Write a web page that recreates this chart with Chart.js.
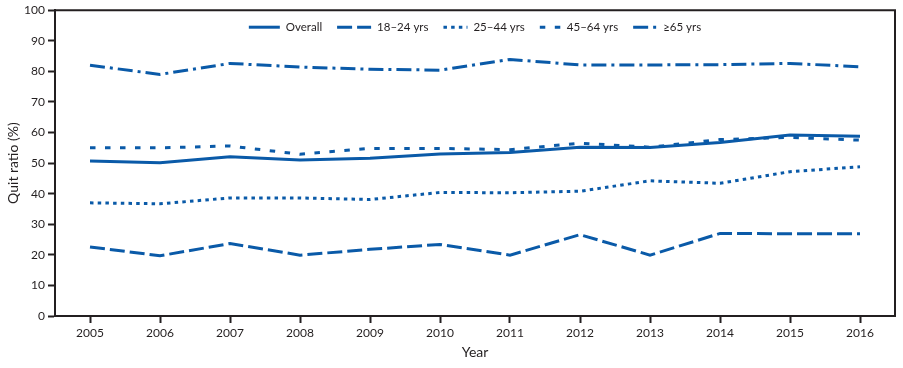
<!DOCTYPE html>
<html>
<head>
<meta charset="utf-8">
<title>Quit ratio by age group, 2005–2016</title>
<script src="https://cdn.jsdelivr.net/npm/chart.js@4.4.1/dist/chart.umd.min.js"></script>
<style>
  html, body { margin: 0; padding: 0; background: #fff; }
  #wrap { width: 903px; height: 368px; }
</style>
</head>
<body>
<div id="wrap"><canvas id="grafico" width="903" height="368"></canvas></div>
<script>
// ===== Dados =====
const anos = ["2005", "2006", "2007", "2008", "2009", "2010", "2011", "2012", "2013", "2014", "2015", "2016"];
const overall = [50.7, 50.1, 52.1, 51.0, 51.6, 53.0, 53.5, 55.2, 55.1, 56.7, 59.2, 58.8];
const idade18a24 = [22.6, 19.7, 23.7, 19.9, 21.8, 23.4, 19.9, 26.6, 19.9, 27.0, 26.9, 26.9];
const idade25a44 = [37.0, 36.7, 38.6, 38.6, 38.1, 40.4, 40.3, 40.8, 44.2, 43.4, 47.2, 48.8];
const idade45a64 = [55.0, 55.0, 55.6, 52.9, 54.8, 54.8, 54.4, 56.5, 55.2, 57.7, 58.4, 57.5];
const idade65mais = [82.0, 79.0, 82.6, 81.4, 80.7, 80.4, 83.9, 82.1, 82.1, 82.2, 82.6, 81.5];
const yTicks = [0, 10, 20, 30, 40, 50, 60, 70, 80, 90, 100];

const AZUL = "#0a5aa8";
const TEXTO = "#231f20";
const FONTE = "Lato, 'Open Sans', sans-serif";

function serie(label, data, dash) {
  return {
    label,
    data,
    borderColor: AZUL,
    backgroundColor: AZUL,
    borderWidth: 3,
    borderDash: dash,
    pointRadius: 0,
    tension: 0,
    fill: false
  };
}

// ===== Plugins: moldura + legenda interna =====
const moldura = {
  id: "moldura",
  afterDatasetsDraw(chart) {
    const { ctx, chartArea: a } = chart;
    ctx.save();
    ctx.strokeStyle = TEXTO;
    ctx.lineWidth = 2;
    ctx.beginPath();
    ctx.moveTo(a.left, a.top);
    ctx.lineTo(a.right, a.top);
    ctx.lineTo(a.right, a.bottom);
    ctx.stroke();
    ctx.restore();
  }
};

const legendaInterna = {
  id: "legendaInterna",
  afterDraw(chart, args, opts) {
    const { ctx, chartArea: a } = chart;
    const sets = chart.data.datasets;
    ctx.save();
    ctx.font = opts.fonte;
    ctx.textBaseline = "middle";
    let total = 0;
    const larguras = sets.map((ds, i) => {
      const w = opts.amostras[i] + opts.gapTexto + ctx.measureText(ds.label).width;
      total += w;
      return w;
    });
    total += opts.gapItem * (sets.length - 1);
    let x = (a.left + a.right) / 2 - total / 2;
    const y = a.top + opts.offsetY;
    sets.forEach((ds, i) => {
      ctx.strokeStyle = ds.borderColor;
      ctx.lineWidth = ds.borderWidth;
      ctx.setLineDash(ds.borderDash || []);
      ctx.beginPath();
      ctx.moveTo(x, y);
      ctx.lineTo(x + opts.amostras[i], y);
      ctx.stroke();
      ctx.setLineDash([]);
      ctx.fillStyle = TEXTO;
      ctx.fillText(ds.label, x + opts.amostras[i] + opts.gapTexto, y);
      x += larguras[i] + opts.gapItem;
    });
    ctx.restore();
  }
};

// ===== Gráfico =====
const grafico = new Chart(document.getElementById("grafico").getContext("2d"), {
  type: "line",
  data: {
    labels: anos,
    datasets: [
      serie("Overall", overall, []),
      serie("18–24 yrs", idade18a24, [15, 5]),
      serie("25–44 yrs", idade25a44, [3.5, 4.2]),
      serie("45–64 yrs", idade45a64, [5.5, 9.5]),
      serie("≥65 yrs", idade65mais, [15, 5, 3, 5])
    ]
  },
  options: {
    responsive: false,
    animation: false,
    layout: { padding: { top: 10, right: 8, left: 0, bottom: 0 } },
    plugins: {
      legend: { display: false },
      tooltip: { enabled: false },
      legendaInterna: {
        fonte: "11.5px " + FONTE,
        amostras: [31, 34, 24, 21, 24],
        gapTexto: 6,
        gapItem: 15,
        offsetY: 17
      }
    },
    scales: {
      x: {
        offset: true,
        grid: { display: true, drawOnChartArea: false, drawTicks: true, tickLength: 7, tickWidth: 2, color: TEXTO, offset: false },
        border: { display: true, color: TEXTO, width: 2 },
        ticks: { color: TEXTO, font: { family: FONTE, size: 12 }, padding: 3, maxRotation: 0 },
        title: { display: true, text: "Year", color: TEXTO, font: { family: FONTE, size: 14 }, padding: { top: 4, bottom: 7 } },
        afterFit: (s) => { s.height = 52; }
      },
      y: {
        min: 0,
        max: 100,
        afterBuildTicks: (s) => { s.ticks = yTicks.map((v) => ({ value: v })); },
        grid: { display: true, drawOnChartArea: false, drawTicks: true, tickLength: 7, tickWidth: 2, color: TEXTO },
        border: { display: true, color: TEXTO, width: 2 },
        ticks: { color: TEXTO, font: { family: FONTE, size: 12 }, padding: 3 },
        title: { display: true, text: "Quit ratio (%)", color: TEXTO, font: { family: FONTE, size: 14 }, padding: { top: 5, bottom: 0 } },
        afterFit: (s) => { s.width = 55; }
      }
    }
  },
  plugins: [moldura, legendaInterna]
});
</script>
</body>
</html>
